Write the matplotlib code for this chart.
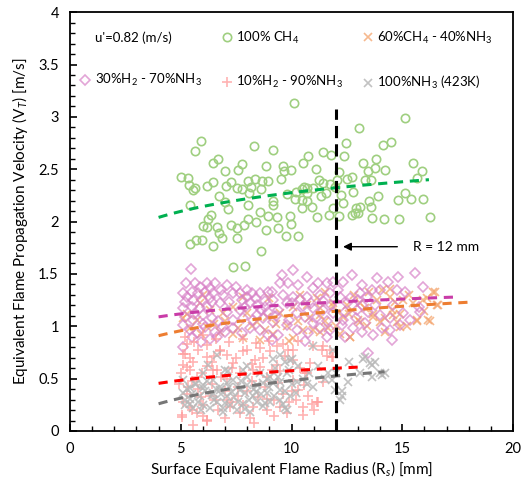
'''Flame propagation velocity against surface equivalent flame radius.

Scatter of five fuel mixtures with Excel-like log trend lines and a
vertical marker at R = 12 mm.
'''

# ----------------------------------------------------------------------------
# Modules
from matplotlib import pyplot as plt
from matplotlib.ticker import MultipleLocator, FormatStrFormatter
import numpy as np

plt.rcParams['font.family'] = ['Lato', 'DejaVu Sans']
plt.rcParams['mathtext.fontset'] = 'custom'
plt.rcParams['mathtext.rm'] = 'Lato'
plt.rcParams['mathtext.it'] = 'Lato:italic'

# ----------------------------------------------------------------------------
# Data (radius [mm], velocity [m/s])

ch4_r = [10.11, 5.91, 5.66, 8.31, 9.18, 10.76, 6.47, 6.67, 7.75, 7.60, 8.85,
         9.60, 9.66, 9.98, 7.01, 5.01, 5.34, 6.47, 6.17, 7.27, 8.02, 8.35,
         8.65, 8.95, 9.51, 5.36, 5.64, 5.57, 7.03, 7.52, 7.75, 8.16, 8.61,
         8.10, 6.74, 7.00, 5.43, 9.78, 10.20, 10.46, 10.68, 10.16, 10.46,
         10.68, 9.18, 9.18, 8.05, 7.15, 10.46, 6.35, 6.25, 6.02, 6.17, 6.62,
         7.25, 7.52, 7.86, 8.05, 8.40, 8.58, 8.95, 9.33, 9.93, 9.96, 9.40,
         8.85, 6.74, 6.85, 7.55, 9.74, 10.31, 5.42, 5.69, 5.95, 6.44, 8.62,
         7.37, 7.89,
         15.12, 13.06, 12.46, 14.12, 14.49, 12.38, 11.44, 11.78, 10.50, 13.24,
         13.81, 15.50, 11.11, 12.16, 13.47, 13.77, 14.22, 15.88, 12.72, 12.49,
         12.07, 13.32, 13.59, 15.65, 11.26, 11.41, 10.98, 10.56, 11.74, 11.96,
         10.69, 11.56, 11.32, 12.22, 12.76, 13.92, 15.12, 15.40, 14.82, 15.95,
         13.51, 12.34, 10.91, 13.59, 11.89, 12.91, 13.09, 12.87, 13.02, 12.75,
         11.71, 12.16, 11.14, 13.62, 14.18, 14.87, 16.25]
ch4_v = [3.13, 2.77, 2.67, 2.72, 2.68, 2.63, 2.56, 2.60, 2.55, 2.49, 2.53,
         2.53, 2.48, 2.49, 2.48, 2.43, 2.42, 2.38, 2.34, 2.38, 2.39, 2.41,
         2.39, 2.39, 2.41, 2.35, 2.32, 2.30, 2.34, 2.32, 2.31, 2.33, 2.31,
         2.27, 2.24, 2.19, 2.16, 2.26, 2.28, 2.31, 2.32, 2.22, 2.21,
         2.20, 2.20, 2.16, 2.16, 2.12, 2.13, 2.06, 2.02, 1.96, 1.95, 1.95,
         1.97, 1.94, 1.97, 2.02, 2.00, 2.09, 2.05, 2.04, 2.05, 1.98, 1.94,
         1.92, 1.89, 1.84, 1.84, 1.86, 1.86, 1.79, 1.82, 1.82, 1.77, 1.72,
         1.57, 1.58,
         2.99, 2.89, 2.75, 2.73, 2.76, 2.63, 2.66, 2.64, 2.56, 2.56,
         2.60, 2.56, 2.50, 2.47, 2.48, 2.51, 2.49, 2.48, 2.43, 2.41,
         2.40, 2.40, 2.40, 2.42, 2.40, 2.37, 2.32, 2.33, 2.36, 2.33,
         2.27, 2.27, 2.24, 2.25, 2.28, 2.24, 2.27, 2.22, 2.21, 2.22,
         2.20, 2.18, 2.14, 2.14, 2.13, 2.13, 2.14, 2.08, 2.08, 2.06,
         2.06, 2.05, 2.04, 2.03, 2.02, 2.02, 2.04]

ch4nh3_r = [16.48, 16.10, 16.55, 15.65, 16.25, 15.20, 14.75, 14.22, 14.52,
            14.90, 14.67, 14.45, 14.07, 13.32, 13.69, 13.02, 12.64, 11.66,
            10.98, 11.29, 12.34, 11.89, 11.14, 11.51,
            16.40, 16.63, 16.18, 15.65, 14.90, 14.60, 14.00, 13.69, 13.09,
            12.64, 11.29, 10.53, 10.08, 9.18, 8.58, 7.83, 7.37, 6.77, 6.17,
            5.72, 5.27, 5.12, 5.87, 6.32, 6.92, 7.37, 7.98, 8.43, 8.88, 9.48,
            10.08, 10.68, 11.29, 11.89, 12.49, 13.09, 13.84, 14.45, 15.05,
            15.50, 15.95,
            5.40, 5.90, 6.50, 7.00, 7.60, 8.20, 8.80, 9.30, 9.80, 10.30,
            10.80, 11.50, 12.00, 12.60, 13.40, 14.20, 6.00, 7.80, 9.00, 10.40,
            12.80, 13.50, 15.30, 16.00, 12.20, 9.90]
ch4nh3_v = [1.33, 1.27, 1.20, 1.05, 1.05, 1.00, 1.04, 1.08, 1.155,
            1.12, 1.23, 1.36, 1.35, 1.17, 1.12, 1.06, 0.90, 0.98,
            0.96, 1.11, 1.09, 1.19, 1.27, 1.33,
            1.33, 1.20, 1.06, 1.06, 0.996, 1.108, 1.044, 1.09, 1.04,
            0.90, 0.95, 0.964, 0.885, 0.93, 0.87, 0.885, 0.93, 0.948, 0.996,
            1.06, 1.12, 1.076, 1.219, 1.155, 1.124, 1.187, 1.124, 1.044, 1.092,
            1.124, 1.187, 1.203, 1.171, 1.219, 1.203, 1.219, 1.25, 1.282, 1.25,
            1.219, 1.25,
            0.98, 0.93, 1.02, 1.05, 0.98, 1.00, 0.96, 1.02, 1.00, 1.05,
            1.08, 1.05, 1.00, 1.12, 1.00, 0.95, 1.30, 1.28, 1.27, 1.30,
            1.30, 1.33, 1.30, 1.15, 0.93, 0.86]

h2nh3_r = [5.46, 5.24, 5.64, 6.17, 6.55, 5.87, 6.32, 5.12, 5.49, 6.10, 6.47,
           6.92, 5.19, 5.57, 5.94, 6.40, 6.77, 5.12, 5.49, 5.87, 6.17, 5.19,
           5.57, 6.02, 6.40, 5.12, 5.42, 5.72, 6.10, 6.55, 6.92, 5.49, 5.12,
           7.07, 7.37, 7.67, 7.98, 8.20, 8.58, 8.95, 7.75, 8.13, 8.43, 8.80,
           9.18, 9.48, 9.86, 10.08, 9.56, 10.31, 10.68, 10.99, 11.21, 11.59,
           11.89, 12.34, 12.72, 13.17, 13.84, 14.37, 14.82, 15.58, 15.95,
           14.75, 15.12, 14.00, 13.62, 13.09, 12.64, 12.19, 11.74, 11.29,
           10.68, 10.08, 9.78, 9.40, 10.23, 10.61, 10.99, 11.44, 11.89, 12.42,
           12.94, 13.47, 14.00, 14.45, 15.05, 15.73, 15.80, 15.35, 14.90,
           14.45, 14.07, 13.69, 13.17, 12.79, 12.26, 11.74, 11.29, 10.76,
           10.23, 9.78, 9.40, 8.95, 8.58, 8.13, 7.75, 7.37, 6.99, 6.62, 7.37,
           7.83, 8.28, 8.73, 9.18, 10.99, 11.59, 12.42, 14.52, 13.47, 14.60,
           13.77, 13.17, 7.67, 8.43, 8.95,
           5.30, 5.80, 6.30, 6.80, 7.20, 7.50, 8.00, 8.40, 8.80, 9.10, 9.60,
           10.00, 10.40, 10.90, 11.40, 11.80, 12.10, 12.50, 13.00, 13.40,
           5.60, 6.00, 6.70, 7.10, 7.90, 8.60, 9.30, 9.90, 10.50, 11.10,
           11.60, 12.30, 12.90, 13.30, 5.90, 6.30, 9.10, 10.60]
h2nh3_v = [1.55, 1.41, 1.41, 1.41, 1.41, 1.378, 1.362, 1.314, 1.33, 1.33,
           1.314, 1.298, 1.235, 1.25, 1.25, 1.235, 1.219, 1.171, 1.187, 1.171,
           1.187, 1.092, 1.06, 1.108, 1.076, 1.012, 0.964, 0.932, 0.996,
           0.948, 0.996, 0.901, 0.805,
           1.394, 1.314, 1.314, 1.282, 1.314, 1.314, 1.33, 1.25, 1.219, 1.203,
           1.187, 1.25, 1.41, 1.41, 1.537, 1.49, 1.394, 1.473, 1.362, 1.41,
           1.41, 1.426, 1.426, 1.49, 1.394, 1.458, 1.426, 1.473, 1.505, 1.378,
           1.346, 1.33, 1.346, 1.346, 1.314, 1.267, 1.282, 1.314, 1.298,
           1.282, 1.282, 1.219, 1.155, 1.124, 1.092, 1.171, 1.155, 1.124,
           1.139, 1.155, 1.139, 1.108, 1.076, 1.124, 1.187, 1.139, 1.06,
           1.012, 0.964, 0.98, 0.917, 0.948, 0.98, 1.012, 0.964, 0.98, 0.932,
           0.964, 1.012, 0.917, 0.917, 0.964, 0.98, 0.932, 0.98, 0.948, 0.901,
           1.06, 1.076, 1.06, 1.076, 1.044, 1.028, 0.901, 0.901, 0.869, 0.742,
           1.203, 1.203, 1.203, 1.155, 1.108, 1.139,
           1.28, 1.32, 1.27, 1.35, 1.23, 1.38, 1.35, 1.27, 1.24, 1.33, 1.30,
           1.22, 1.26, 1.22, 1.24, 1.20, 1.35, 1.22, 1.25, 1.28,
           1.12, 1.02, 1.05, 1.14, 1.18, 1.16, 1.10, 1.06, 1.19, 1.08,
           1.05, 1.06, 1.08, 1.03, 0.85, 0.88, 0.87, 0.86]

h2nh3_90_r = [5.30, 5.79, 5.19, 6.40, 6.17, 6.77, 7.07, 7.37, 7.98, 8.35,
              8.58, 9.03, 9.33, 9.86, 10.08, 5.12, 5.42, 5.94, 6.62, 5.34,
              5.12, 5.42, 5.04, 5.72, 6.17, 6.70, 7.22, 7.68, 8.28, 8.88,
              9.48, 9.78, 10.31, 8.13, 7.07, 6.32,
              10.84, 10.61, 10.56, 11.36, 11.59, 11.81, 11.21, 10.91, 10.50,
              5.57, 6.17, 5.04, 11.14, 10.76, 11.74, 11.44, 11.89,
              6.17, 6.77, 7.83, 8.58, 9.33, 10.08, 10.99, 5.12, 5.57, 5.27,
              5.72, 6.47, 7.07, 7.67, 8.28, 8.88, 9.48, 10.08, 10.68, 11.44,
              5.30, 5.80, 6.40, 7.00, 7.60, 8.20, 8.80, 9.40, 10.00, 6.00,
              7.30, 8.50, 9.20, 9.90, 5.50, 6.80, 8.00, 4.90, 5.00,
              5.20, 5.60, 6.00, 6.60, 7.20, 7.80, 8.40, 9.00, 9.60, 10.30,
              5.40, 6.50, 7.50, 8.70, 9.70, 6.20, 7.30, 8.20, 9.10, 10.40,
              5.90, 6.60, 7.60, 8.90, 9.60, 10.20, 6.00, 7.00, 8.30, 9.20,
              10.50, 11.00, 5.50, 7.80]
h2nh3_90_v = [0.83, 0.77, 0.74, 0.66, 0.82, 0.76, 0.73, 0.65, 0.77, 0.68,
              0.61, 0.76, 0.63, 0.77, 0.68, 0.63, 0.58, 0.55, 0.58, 0.42,
              0.28, 0.23, 0.15, 0.17, 0.10, 0.20, 0.23, 0.17, 0.23, 0.20,
              0.23, 0.17, 0.39, 0.12, 0.30, 0.33,
              0.65, 0.55, 0.44, 0.77, 0.72, 0.71, 0.28, 0.26, 0.23,
              0.057, 0.105, 0.137, 0.28, 0.33, 0.77, 0.81, 0.71,
              0.71, 0.77, 0.76, 0.79, 0.81, 0.77, 0.81, 0.74, 0.66, 0.61,
              0.52, 0.58, 0.50, 0.55, 0.58, 0.52, 0.57, 0.49, 0.55, 0.47,
              0.35, 0.40, 0.45, 0.38, 0.42, 0.48, 0.42, 0.46, 0.38, 0.25,
              0.28, 0.32, 0.30, 0.28, 0.48, 0.52, 0.38, 0.45, 0.55,
              0.90, 0.85, 0.92, 0.88, 0.85, 0.88, 0.84, 0.86, 0.83, 0.86,
              0.70, 0.72, 0.70, 0.70, 0.72, 0.62, 0.60, 0.64, 0.58, 0.60,
              0.32, 0.30, 0.33, 0.31, 0.35, 0.30, 0.14, 0.12, 0.08, 0.14,
              0.15, 0.20, 0.20, 0.25]

nh3_r = [10.98, 11.89, 12.61, 13.32, 13.54, 13.77, 13.99, 14.22, 13.62,
         13.09, 12.57, 12.01, 11.81, 11.51, 10.98, 10.68, 11.96, 12.27,
         12.19, 11.66,
         6.62, 6.25, 9.48, 9.71, 9.18, 10.01, 9.78, 9.26, 8.73, 7.98, 7.37,
         6.77, 6.02, 5.42, 5.12, 5.42, 5.87, 6.47, 7.07, 7.68, 8.28, 8.88,
         9.48, 9.93, 9.71, 9.03, 8.43, 7.83, 7.22, 6.62, 6.02, 5.57, 5.19,
         6.92, 7.52, 8.13, 6.02, 6.77, 7.52, 8.43, 9.18, 8.58, 5.12, 5.64,
         6.47, 7.83, 7.15, 9.03, 9.48, 10.23,
         9.93, 13.24, 13.62, 14.07, 12.26, 9.78,
         5.20, 5.50, 5.80, 6.10, 6.30, 6.50, 6.80, 7.00, 7.20, 7.40, 7.60,
         7.90, 8.10, 8.30, 8.60, 8.80, 9.00, 9.20, 9.50, 9.70, 10.00, 10.20,
         5.30, 5.70, 6.20, 6.60, 7.10, 7.70, 8.00, 8.90, 9.40, 5.90, 6.90,
         7.90, 8.70, 9.60, 5.40, 6.40, 7.30, 8.40, 10.50, 10.80, 9.90,
         10.30, 11.20, 8.00, 7.00, 6.00]
nh3_v = [0.81, 0.77, 0.66, 0.71, 0.65, 0.66, 0.55, 0.55, 0.52,
         0.55, 0.47, 0.55, 0.49, 0.50, 0.42, 0.45, 0.39, 0.38,
         0.30, 0.55,
         0.73, 0.63, 0.73, 0.66, 0.69, 0.69, 0.55, 0.60, 0.46, 0.52, 0.49,
         0.42, 0.44, 0.41, 0.36, 0.31, 0.33, 0.36, 0.33, 0.39, 0.33, 0.36,
         0.39, 0.33, 0.22, 0.28, 0.28, 0.26, 0.25, 0.28, 0.25, 0.22, 0.25,
         0.18, 0.20, 0.18, 0.41, 0.39, 0.42, 0.44, 0.46, 0.55, 0.49, 0.45,
         0.49, 0.58, 0.57, 0.52, 0.47, 0.47,
         0.68, 0.69, 0.63, 0.535, 0.33, 0.20,
         0.30, 0.35, 0.28, 0.38, 0.22, 0.30, 0.35, 0.27, 0.42, 0.32, 0.28,
         0.36, 0.30, 0.40, 0.35, 0.27, 0.42, 0.33, 0.30, 0.38, 0.45, 0.36,
         0.40, 0.45, 0.48, 0.40, 0.46, 0.48, 0.44, 0.50, 0.52, 0.20, 0.22,
         0.21, 0.24, 0.26, 0.26, 0.34, 0.37, 0.37, 0.50, 0.55, 0.58,
         0.62, 0.62, 0.62, 0.58, 0.55]

# Trend lines: (r start, r end, v start, v end), logarithmic in r
trend_ch4 = (4.0, 16.2, 2.04, 2.40)
trend_ch4nh3 = (4.0, 18.0, 0.91, 1.23)
trend_h2nh3 = (4.0, 17.5, 1.09, 1.28)
trend_h2nh3_90 = (4.0, 13.0, 0.455, 0.61)
trend_nh3 = (4.0, 14.2, 0.26, 0.566)

r_marker = 12
r_marker_top = 3.08
arrow_v = 1.76

# ----------------------------------------------------------------------------


def trend_plot(ax, trend, color):
    """Draws a dashed log trend line between the two end values."""

    r0, r1, v0, v1 = trend
    r = np.linspace(r0, r1, 50)
    v = v0 + (v1 - v0) * np.log(r / r0) / np.log(r1 / r0)
    ax.plot(r, v, color=color, linewidth=2.2, dashes=(3, 2.2), zorder=4)

# ----------------------------------------------------------------------------


def main():

    figure = plt.figure(figsize=(5.22, 4.87), dpi=100)
    ax = figure.add_axes([0.134, 0.115, 0.849, 0.86])

    ms = 6
    mew = 1.2
    blank, = ax.plot([], [], linestyle='none', marker='none',
                     label="u'=0.82 (m/s)")
    ch4, = ax.plot(ch4_r, ch4_v, linestyle='none', marker='o', ms=ms,
                   mfc='none', mec='#9fcf80', mew=mew,
                   label='100% CH$_4$', zorder=3)
    ch4nh3, = ax.plot(ch4nh3_r, ch4nh3_v, linestyle='none', marker='x',
                      ms=ms, mec='#f4a26a', mew=mew, alpha=0.75,
                      label='60%CH$_4$ - 40%NH$_3$', zorder=3)
    h2nh3, = ax.plot(h2nh3_r, h2nh3_v, linestyle='none', marker='D',
                     ms=4.8, mfc='none', mec='#d77fc6', mew=mew, alpha=0.7,
                     label='30%H$_2$ - 70%NH$_3$', zorder=3)
    h2nh3_90, = ax.plot(h2nh3_90_r, h2nh3_90_v, linestyle='none',
                        marker='+', ms=ms + 1, mec='#ff9a9a', mew=mew,
                        alpha=0.75, label='10%H$_2$ - 90%NH$_3$', zorder=3)
    nh3, = ax.plot(nh3_r, nh3_v, linestyle='none', marker='x', ms=ms,
                   mec='#b8b8b8', mew=mew, alpha=0.85,
                   label='100%NH$_3$ (423K)', zorder=3)

    trend_plot(ax, trend_ch4, '#00b050')
    trend_plot(ax, trend_ch4nh3, '#ed7d31')
    trend_plot(ax, trend_h2nh3, '#c93ca8')
    trend_plot(ax, trend_h2nh3_90, '#ff0000')
    trend_plot(ax, trend_nh3, '#767676')

    ax.plot([r_marker, r_marker], [0, r_marker_top], color='black',
            linewidth=2.2, dashes=(4, 2), zorder=5)
    ax.annotate('', xy=(r_marker + 0.2, arrow_v), xytext=(14.9, arrow_v),
                arrowprops=dict(arrowstyle='-|>', color='black', lw=1,
                                mutation_scale=12))
    ax.text(15.5, arrow_v, 'R = 12 mm', fontsize=10, va='center',
            ha='left')

    handles = [blank, h2nh3, ch4, h2nh3_90, ch4nh3, nh3]
    ax.legend(handles=handles, ncol=3, loc='upper left',
              bbox_to_anchor=(0.02, 0.958), frameon=False, fontsize=9.5,
              borderpad=0, borderaxespad=0, handlelength=1.0,
              handletextpad=0.2, columnspacing=1.4, labelspacing=2.15)

    ax.set_xlim(0, 20)
    ax.set_ylim(0, 4)
    ax.xaxis.set_major_locator(MultipleLocator(5))
    ax.xaxis.set_minor_locator(MultipleLocator(1))
    ax.yaxis.set_major_locator(MultipleLocator(0.5))
    ax.yaxis.set_minor_locator(MultipleLocator(0.1))
    ax.yaxis.set_major_formatter(FormatStrFormatter('%g'))
    ax.tick_params(which='major', direction='in', length=5, width=1.2,
                   labelsize=10.5, pad=8)
    ax.tick_params(which='minor', direction='in', length=3.5, width=1)
    for spine in ax.spines.values():
        spine.set_linewidth(1.3)

    ax.set_xlabel('Surface Equivalent Flame Radius (R$_s$) [mm]',
                  fontsize=11, labelpad=2)
    ax.set_ylabel('Equivalent Flame Propagation Velocity (V$_T$) [m/s]',
                  fontsize=11, labelpad=6)

    plt.savefig('out.png', dpi=100)

    return None

# -----------------------------------------------------------------------------


if __name__ == '__main__':
    main()
